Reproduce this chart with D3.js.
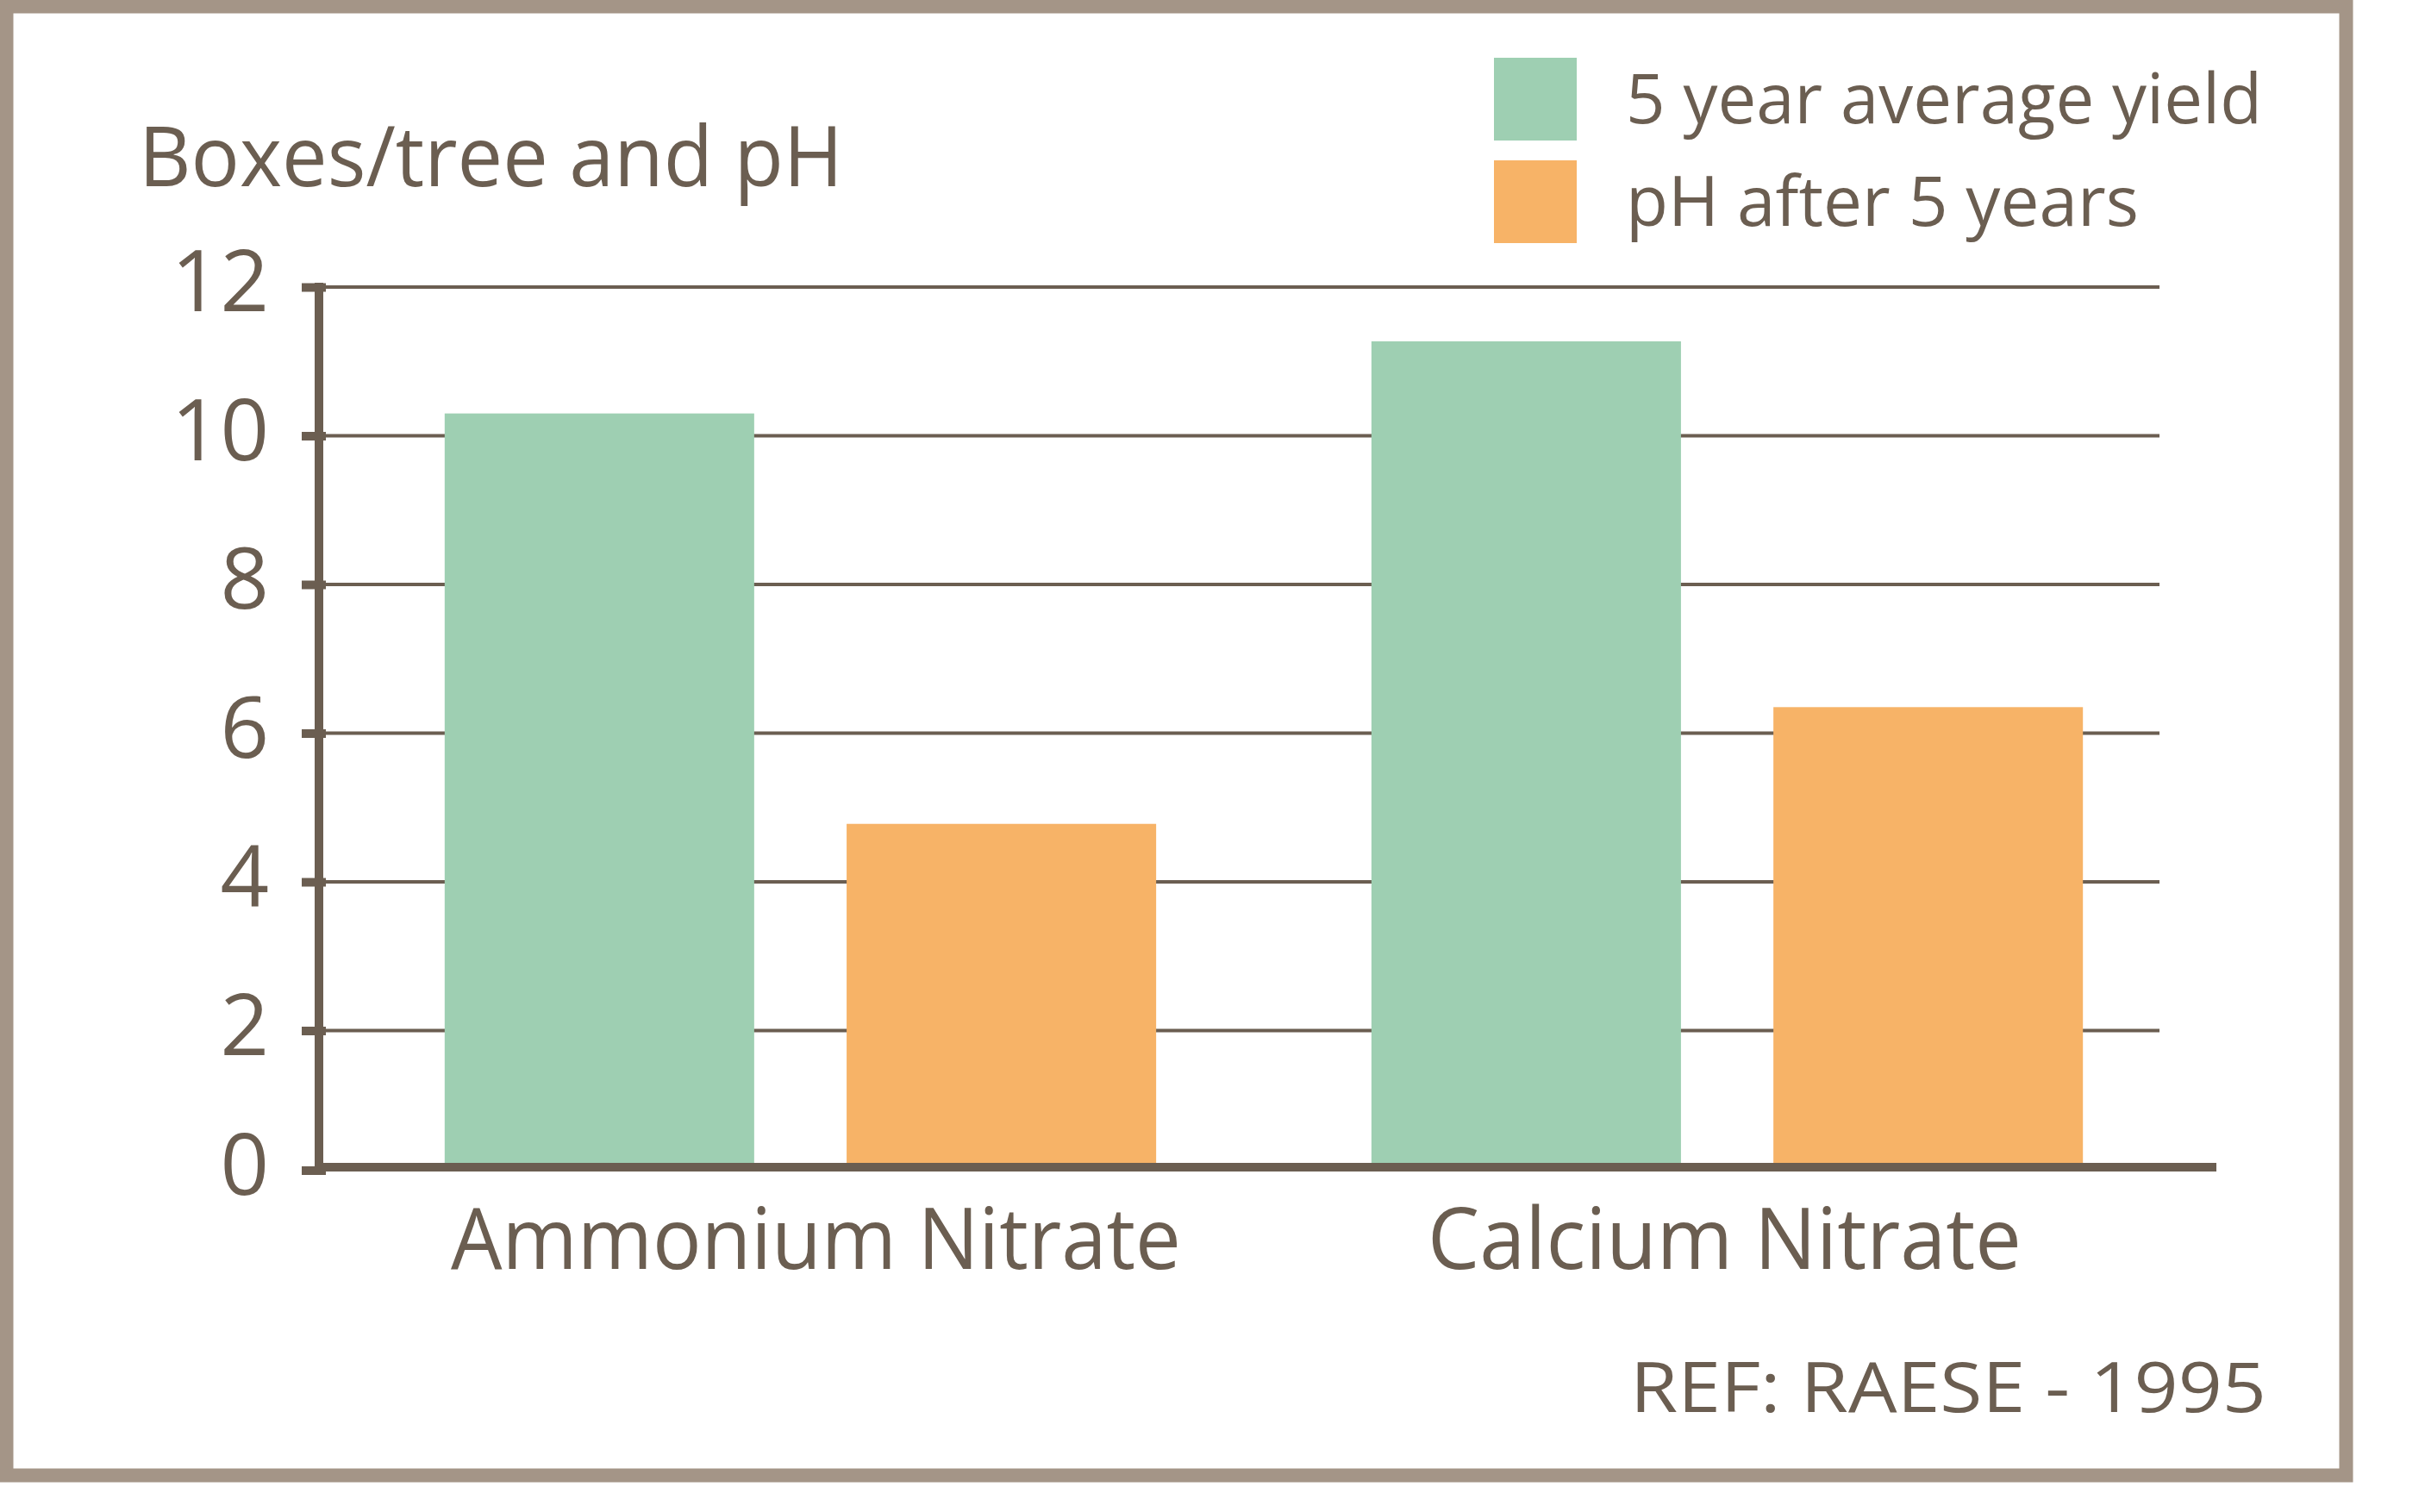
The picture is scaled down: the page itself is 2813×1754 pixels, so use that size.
<!DOCTYPE html>
<html><head><meta charset="utf-8">
<script src="https://cdn.jsdelivr.net/npm/d3@7"></script>
<style>html,body{margin:0;padding:0;background:#fff;} svg{display:block}</style>
</head><body>
<script>
// ---- data ----
const categories = ["Ammonium Nitrate", "Calcium Nitrate"];
const seriesNames = ["5 year average yield", "pH after 5 years"];
const yieldValues = [10.3, 11.27];
const phValues = [4.78, 6.35];
const yTicks = [0, 2, 4, 6, 8, 10, 12];
const yAxisTitle = "Boxes/tree and pH";
const sourceNote = "REF: RAESE - 1995";

// ---- style ----
const W = 2813, H = 1754;
const textColor = "#6b5e51";
const borderColor = "#a49587";
const seriesColors = ["#9ecfb2", "#f7b367"];
const font = "'Open Sans', 'Noto Sans', sans-serif";

const rows = categories.map((c, i) => ({cat: c, values: [yieldValues[i], phValues[i]]}));

const svg = d3.select("body").append("svg").attr("width", W).attr("height", H);
svg.append("rect").attr("width", W).attr("height", H).attr("fill", "#fff");

// frame
svg.append("rect").attr("x", 7.5).attr("y", 7.5).attr("width", 2714).attr("height", 1704)
  .attr("fill", "none").attr("stroke", borderColor).attr("stroke-width", 16);

const y = d3.scaleLinear().domain([0, 12]).range([1368, 333]);
const x0 = d3.scaleBand().domain(categories).range([516 - 0.2 * 1076, 2416 + 0.2 * 1076])
  .paddingInner(0.2323).paddingOuter(0.2);
const x1 = d3.scaleBand().domain(seriesNames).range([0, x0.bandwidth()]).paddingInner(0.23);

const axisX = 370, gridEnd = 2505, baseY = 1354;

// gridlines
svg.append("g").selectAll("line").data(yTicks.filter(t => t > 0)).join("line")
  .attr("x1", axisX).attr("x2", gridEnd)
  .attr("y1", d => y(d)).attr("y2", d => y(d))
  .attr("stroke", textColor).attr("stroke-width", 4);

// bars
const g = svg.append("g").selectAll("g").data(rows).join("g")
  .attr("transform", d => `translate(${x0(d.cat)},0)`);
g.selectAll("rect").data(d => d.values.map((v, i) => ({s: seriesNames[i], v, i}))).join("rect")
  .attr("x", d => x1(d.s)).attr("width", x1.bandwidth())
  .attr("y", d => y(d.v)).attr("height", d => baseY - y(d.v))
  .attr("fill", d => seriesColors[d.i]);

// y axis
const yAxis = d3.axisLeft(y).tickValues(yTicks).tickSize(20).tickPadding(38).tickFormat(d3.format("d"));
const ya = svg.append("g").attr("transform", `translate(${axisX},0)`).call(yAxis);
ya.select(".domain").remove();
ya.selectAll(".tick").filter(d => d === 0).attr("transform", `translate(0,${baseY + 4})`);
ya.selectAll(".tick line").attr("stroke", textColor).attr("stroke-width", 10).attr("x2", 8).attr("x1", -20);
ya.selectAll(".tick text").attr("fill", textColor).attr("font-family", font)
  .attr("font-size", 99).attr("dy", "0.28em");
svg.append("line").attr("x1", axisX).attr("x2", axisX).attr("y1", y(12) - 5).attr("y2", baseY + 9)
  .attr("stroke", textColor).attr("stroke-width", 10);

// x axis baseline
svg.append("line").attr("x1", axisX - 5).attr("x2", 2571).attr("y1", baseY).attr("y2", baseY)
  .attr("stroke", textColor).attr("stroke-width", 10);

// category labels
const catWidths = [847, 689];
const catShift = [18, -3];
svg.append("g").selectAll("text").data(categories).join("text")
  .attr("x", (d, i) => x0(d) + x0.bandwidth() / 2 + catShift[i]).attr("y", 1472)
  .attr("text-anchor", "middle").attr("fill", textColor)
  .attr("font-family", font).attr("font-size", 98)
  .attr("textLength", (d, i) => catWidths[i]).attr("lengthAdjust", "spacingAndGlyphs")
  .text(d => d);

// axis title
svg.append("text").attr("x", 161).attr("y", 216).attr("fill", textColor)
  .attr("font-family", font).attr("font-size", 97)
  .attr("textLength", 817).attr("lengthAdjust", "spacingAndGlyphs")
  .text(yAxisTitle);

// legend
const legWidths = [738, 595];
const leg = svg.append("g").selectAll("g").data(seriesNames).join("g")
  .attr("transform", (d, i) => `translate(1733,${67 + i * 119})`);
leg.append("rect").attr("width", 96).attr("height", 96).attr("fill", (d, i) => seriesColors[i]);
leg.append("text").attr("x", 153).attr("y", 76).attr("fill", textColor)
  .attr("font-family", font).attr("font-size", 81)
  .attr("textLength", (d, i) => legWidths[i]).attr("lengthAdjust", "spacingAndGlyphs")
  .text(d => d);

// source note
svg.append("text").attr("x", 2629).attr("y", 1638).attr("text-anchor", "end").attr("fill", textColor)
  .attr("font-family", font).attr("font-size", 81)
  .attr("textLength", 738).attr("lengthAdjust", "spacingAndGlyphs")
  .text(sourceNote);
</script>
</body></html>
